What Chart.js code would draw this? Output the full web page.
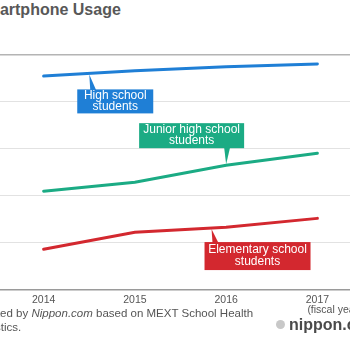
<!DOCTYPE html>
<html>
<head>
<meta charset="utf-8">
<script src="https://cdn.jsdelivr.net/npm/chart.js@4.4.1/dist/chart.umd.min.js"></script>
<style>
  html, body { margin: 0; padding: 0; background: #fff; }
  #frame { position: relative; width: 350px; height: 350px; overflow: hidden; font-family: "Liberation Sans", Arial, sans-serif; }
  #wrap { position: absolute; left: -60px; top: 0; width: 430px; height: 350px; }
  #title { position: absolute; left: -25px; top: 1px; font-size: 16px; font-weight: bold; color: #585858; white-space: nowrap; }
  #note { position: absolute; left: -28px; top: 306px; font-size: 11.5px; line-height: 14px; color: #555; white-space: nowrap; }
  #logo { position: absolute; left: 276px; top: 316px; font-size: 16px; font-weight: bold; color: #4a4a4a; white-space: nowrap; }
  #logo span.dot { display: inline-block; width: 9px; height: 9px; border-radius: 50%; background: #c8c8c8; margin-right: 4px; vertical-align: 1px; }
</style>
</head>
<body>
<div id="frame">
  <div id="title">Smartphone Usage</div>
  <div id="wrap"><canvas id="usageChart"></canvas></div>
  <div id="note">Created by <i>Nippon.com</i> based on MEXT School Health<br>Statistics.</div>
  <div id="logo"><span class="dot"></span>nippon.com</div>
</div>
<script>
// fiscal years on the x axis
const years = ['2014', '2015', '2016', '2017'];
// smartphone ownership (%)
const highSchool = [91.0, 93.3, 95.0, 96.2];
const juniorHigh = [41.9, 45.7, 53.0, 58.1];
const elementary = [17.1, 24.4, 26.5, 30.3];

const blue = '#1f7fd6';
const green = '#1bab84';
const red = '#d3282f';

// callout boxes: which dataset, where on the line (point index, may be fractional)
const callouts = [
  { ds: 0, at: 0.5, lines: ['High school', 'students'], color: blue, dx: -12, dy: 16, w: 76, h: 24, lh: 10.5, side: 'below' },
  { ds: 1, at: 2.0, lines: ['Junior high school', 'students'], color: green, dx: -87, dy: -42, w: 105, h: 25, lh: 11, side: 'above' },
  { ds: 2, at: 1.84, lines: ['Elementary school', 'students'], color: red, dx: -7, dy: 14, w: 106, h: 28, lh: 12, side: 'below' }
];

const calloutPlugin = {
  id: 'callouts',
  afterDatasetsDraw(chart) {
    const ctx = chart.ctx;
    ctx.save();
    callouts.forEach(c => {
      const pts = chart.getDatasetMeta(c.ds).data;
      const i = Math.min(Math.floor(c.at), pts.length - 2);
      const t = c.at - i;
      const ax = pts[i].x + (pts[i + 1].x - pts[i].x) * t;
      const ay = pts[i].y + (pts[i + 1].y - pts[i].y) * t;
      const left = ax + c.dx, top = ay + c.dy;
      ctx.fillStyle = c.color;
      ctx.fillRect(left, top, c.w, c.h);
      ctx.beginPath();
      if (c.side === 'below') {
        ctx.moveTo(ax, ay + 1);
        ctx.lineTo(ax + 1, top + 1);
        ctx.lineTo(ax + 7, top + 1);
      } else {
        ctx.moveTo(ax, ay - 1);
        ctx.lineTo(ax - 2, top + c.h - 1);
        ctx.lineTo(ax + 4, top + c.h - 1);
      }
      ctx.closePath();
      ctx.fill();
      ctx.fillStyle = '#fff';
      ctx.font = '12px "Liberation Sans", Arial, sans-serif';
      ctx.textAlign = 'center';
      ctx.textBaseline = 'middle';
      const cy = top + c.h / 2 - (c.lines.length - 1) * c.lh / 2;
      c.lines.forEach((txt, k) => ctx.fillText(txt, left + c.w / 2, cy + k * c.lh));
    });
    // "(fiscal year)" under the last tick
    const xs = chart.scales.x;
    const lastX = xs.getPixelForValue(years.length - 1);
    ctx.fillStyle = '#555';
    ctx.font = '10.5px "Liberation Sans", Arial, sans-serif';
    ctx.textAlign = 'left';
    ctx.textBaseline = 'middle';
    ctx.fillText('(fiscal year)', lastX - 10, chart.chartArea.bottom + 21);
    ctx.restore();
  }
};

const usageChart = new Chart(document.getElementById('usageChart'), {
  type: 'line',
  data: {
    labels: years,
    datasets: [
      { label: 'High school students', data: highSchool, borderColor: blue },
      { label: 'Junior high school students', data: juniorHigh, borderColor: green },
      { label: 'Elementary school students', data: elementary, borderColor: red }
    ]
  },
  options: {
    responsive: true,
    maintainAspectRatio: false,
    animation: false,
    layout: { padding: { left: 58, right: 7, top: 55, bottom: 40 } },
    elements: {
      point: { radius: 0 },
      line: { borderWidth: 3, tension: 0, borderCapStyle: 'round' }
    },
    plugins: {
      legend: { display: false },
      tooltip: { enabled: false }
    },
    scales: {
      x: {
        offset: true,
        grid: { display: false, drawTicks: false, tickLength: 0 },
        border: { display: true, color: '#9a9a9a', width: 1.5 },
        ticks: { color: '#555', font: { size: 10.5, family: '"Liberation Sans", Arial, sans-serif' }, padding: 4 }
      },
      y: {
        min: 0,
        max: 100,
        ticks: { display: false, stepSize: 20 },
        border: { display: false },
        grid: {
          drawTicks: false,
          color: ctx => ctx.tick && ctx.tick.value === 100 ? '#b4b4b4' : '#e2e2e2',
          lineWidth: ctx => ctx.tick && ctx.tick.value === 100 ? 1.5 : 1
        }
      }
    }
  },
  plugins: [calloutPlugin]
});
</script>
</body>
</html>
